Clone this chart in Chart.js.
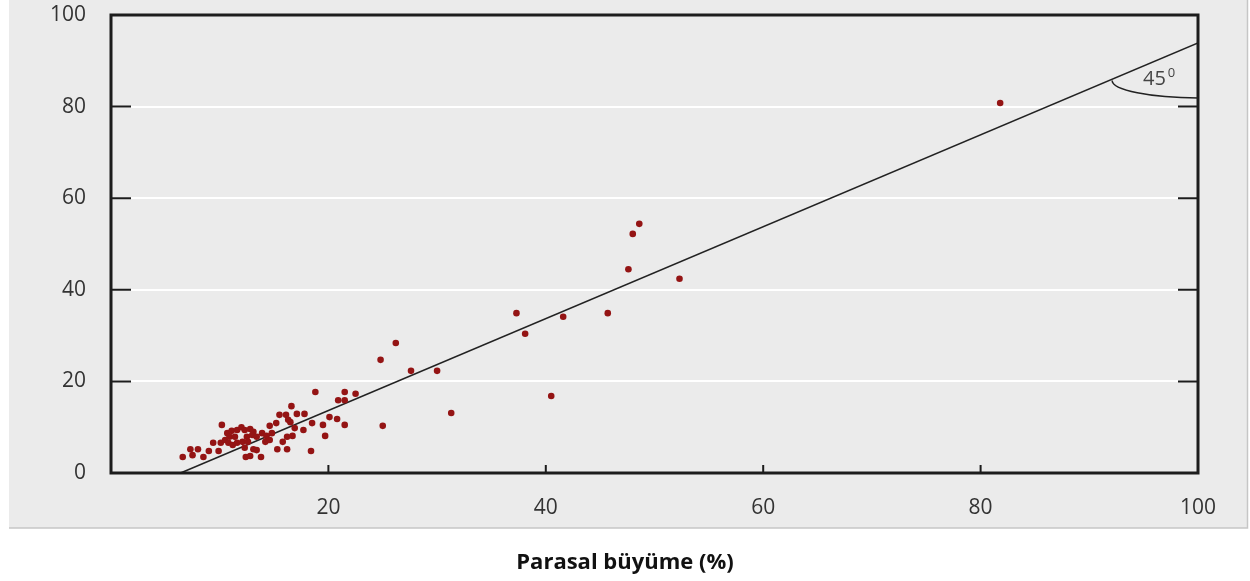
<!DOCTYPE html>
<html>
<head>
<meta charset="utf-8">
<script src="https://cdn.jsdelivr.net/npm/chart.js@4/dist/chart.umd.min.js"></script>
<style>
  body { margin: 0; background: #fff; }
  canvas { display: block; }
</style>
</head>
<body>
<canvas id="growthChart" width="1250" height="581"></canvas>
<script>
// monetary growth (x) vs inflation (y)
const growthX = [
  6.6, 7.3, 7.5, 8.0, 8.5, 9.0, 9.4, 9.9, 10.2, 10.1, 10.5, 10.7, 11.1, 11.6, 12.0, 10.8,
  11.2, 11.6, 10.9, 11.4, 12.3, 12.8, 13.1, 12.5, 13.0, 13.4, 12.1, 12.6, 12.3, 13.1, 12.4,
  12.8, 13.4, 13.8, 13.9, 14.3, 14.2, 14.6, 14.8, 14.6, 15.2, 15.3, 16.2, 15.5, 16.1, 16.3,
  15.8, 16.2, 18.8, 21.5, 22.5, 20.9, 21.5, 16.6, 17.1, 17.8, 16.5, 20.1, 20.8, 18.5, 19.5,
  21.5, 16.9, 17.7, 16.7, 19.7, 18.4, 26.2, 24.8, 27.6, 30.0, 31.3, 25.0, 48.6, 48.0, 47.6,
  52.3, 37.3, 41.6, 45.7, 38.1, 40.5, 81.8
];
const inflationY = [
  3.5, 5.2, 3.9, 5.2, 3.5, 4.8, 6.6, 4.8, 10.5, 6.6, 7.2, 8.7, 9.2, 9.4, 10.0, 6.6,
  6.1, 6.6, 7.9, 7.9, 9.4, 9.6, 9.0, 7.9, 8.3, 7.9, 6.8, 6.8, 5.5, 5.2, 3.5,
  3.7, 5.0, 3.5, 8.7, 8.1, 6.8, 7.2, 8.7, 10.3, 10.9, 5.2, 5.2, 12.7, 12.7, 11.6,
  6.8, 7.9, 17.7, 17.7, 17.3, 15.9, 15.9, 14.6, 12.9, 12.9, 11.1, 12.2, 11.8, 10.9, 10.5,
  10.5, 9.8, 9.4, 8.1, 8.1, 4.8, 28.4, 24.7, 22.3, 22.3, 13.1, 10.3, 54.4, 52.2, 44.5,
  42.4, 34.9, 34.1, 34.9, 30.4, 16.8, 80.8
];
// fitted line end points
const fitX = [6.4, 100];
const fitY = [0, 93.9];

const xTicks = [20, 40, 60, 80, 100];
const yTicks = [0, 20, 40, 60, 80, 100];

const FONT = "'Open Sans', sans-serif";

const points = growthX.map((x, i) => ({ x: x, y: inflationY[i] }));
const fitLine = fitX.map((x, i) => ({ x: x, y: fitY[i] }));

// grey panel behind the plot
const panelBg = {
  id: 'panelBg',
  beforeDraw(chart) {
    const ctx = chart.ctx;
    ctx.save();
    ctx.fillStyle = '#ffffff';
    ctx.fillRect(0, 0, chart.width, chart.height);
    ctx.fillStyle = '#ebebeb';
    ctx.fillRect(9, 0, 1238, 528);
    ctx.strokeStyle = '#c6c6c6';
    ctx.lineWidth = 1.5;
    ctx.beginPath();
    ctx.moveTo(9, 528);
    ctx.lineTo(1247.5, 528);
    ctx.lineTo(1247.5, 0);
    ctx.stroke();
    ctx.restore();
  }
};

// black frame, inner ticks and the 45 degree mark
const frame = {
  id: 'frame',
  afterDatasetsDraw(chart) {
    const ctx = chart.ctx;
    const a = chart.chartArea;
    const xs = chart.scales.x, ys = chart.scales.y;
    ctx.save();
    ctx.strokeStyle = '#1c1c1c';
    ctx.lineWidth = 2;
    ctx.beginPath();
    yTicks.slice(1, -1).forEach(v => {
      const py = ys.getPixelForValue(v);
      ctx.moveTo(a.left, py); ctx.lineTo(a.left + 20, py);
      ctx.moveTo(a.right - 20, py); ctx.lineTo(a.right, py);
    });
    xTicks.slice(0, -1).forEach(v => {
      const px = xs.getPixelForValue(v);
      ctx.moveTo(px, a.bottom); ctx.lineTo(px, a.bottom - 8);
    });
    ctx.stroke();

    ctx.lineWidth = 3;
    ctx.strokeRect(a.left, a.top, a.right - a.left, a.bottom - a.top);

    // angle arc between the fitted line and the horizontal
    const x0 = xs.getPixelForValue(92.1);
    const yTop = ys.getPixelForValue(92.1 - fitX[0]);
    const yEnd = ys.getPixelForValue(81.9);
    ctx.lineWidth = 1.5;
    ctx.strokeStyle = '#222';
    ctx.beginPath();
    ctx.ellipse(a.right, yTop, a.right - x0, yEnd - yTop, 0, Math.PI / 2, Math.PI);
    ctx.stroke();

    ctx.fillStyle = '#444';
    ctx.textBaseline = 'middle';
    ctx.textAlign = 'center';
    ctx.font = '20px ' + FONT;
    const lx = xs.getPixelForValue(96.0), ly = ys.getPixelForValue(86.0);
    ctx.fillText('45', lx, ly);
    ctx.font = '13px ' + FONT;
    ctx.fillText('0', lx + 17, ly - 6);
    ctx.restore();
  }
};

new Chart(document.getElementById('growthChart').getContext('2d'), {
  type: 'scatter',
  data: {
    datasets: [
      {
        label: 'Ülkeler',
        data: points,
        backgroundColor: '#941414',
        borderWidth: 0,
        pointRadius: 3.3,
        order: 1
      },
      {
        type: 'line',
        label: 'Eğilim',
        data: fitLine,
        borderColor: '#222',
        borderWidth: 1.6,
        pointRadius: 0,
        fill: false,
        order: 2
      }
    ]
  },
  options: {
    responsive: false,
    animation: false,
    devicePixelRatio: 1,
    layout: { padding: { top: 15, left: 0, right: 0, bottom: 0 } },
    plugins: {
      legend: { display: false },
      tooltip: { enabled: false },
      title: {
        display: true,
        position: 'bottom',
        text: 'Parasal büyüme (%)',
        color: '#111',
        font: { family: FONT, size: 22, weight: 'bold' },
        padding: { top: 11, bottom: 5 }
      }
    },
    scales: {
      x: {
        type: 'linear',
        min: 0,
        max: 100,
        afterBuildTicks: s => { s.ticks = [0].concat(xTicks).map(v => ({ value: v })); },
        afterFit: s => { s.height = 65.6; },
        grid: { display: false, drawTicks: false },
        border: { display: false },
        ticks: {
          padding: 22,
          color: '#333',
          font: { family: FONT, size: 21 },
          callback: v => (v === 0 ? '' : v)
        }
      },
      y: {
        min: 0,
        max: 100,
        afterBuildTicks: s => { s.ticks = yTicks.map(v => ({ value: v })); },
        afterFit: s => { s.width = 111; s.paddingTop = 12; s.paddingBottom = 12; },
        grid: {
          drawTicks: false,
          lineWidth: 2,
          color: c => (c.tick.value > 0 && c.tick.value < 100 ? '#ffffff' : 'rgba(0,0,0,0)')
        },
        border: { display: false },
        ticks: {
          padding: 25,
          color: '#333',
          font: { family: FONT, size: 21 }
        }
      },
      yR: {
        position: 'right',
        grid: { display: false },
        border: { display: false },
        ticks: { display: false },
        afterFit: s => { s.width = 52; }
      }
    }
  },
  plugins: [panelBg, frame]
});
</script>
</body>
</html>
